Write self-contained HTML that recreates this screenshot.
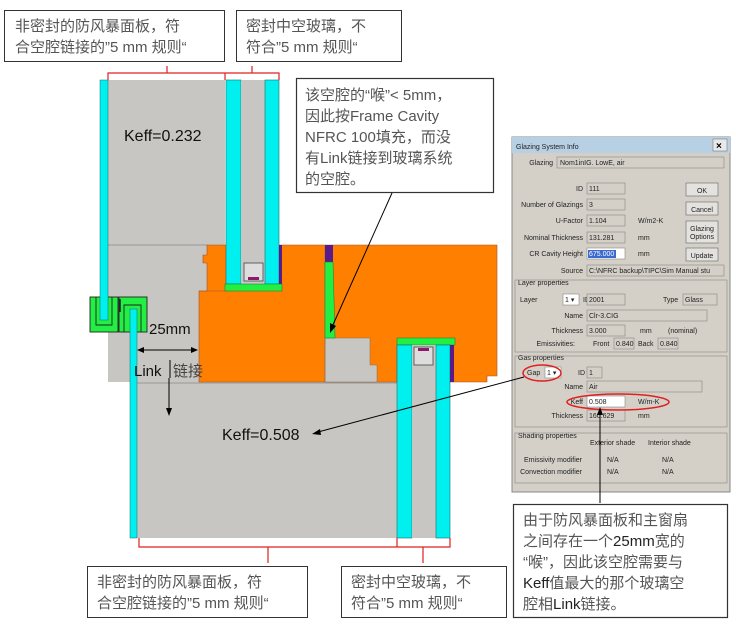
<!DOCTYPE html>
<html><head><meta charset="utf-8"><style>
html,body{margin:0;padding:0;background:#fff;width:736px;height:627px;overflow:hidden}
svg{display:block}
.cn{font-family:"Liberation Sans","Noto Sans CJK SC",sans-serif}
.d{font-family:"Liberation Sans",sans-serif;font-size:7px;fill:#222}
</style></head><body>
<svg width="736" height="627" viewBox="0 0 736 627" xmlns="http://www.w3.org/2000/svg">
<rect x="108" y="80" width="117" height="165" fill="#c8c6c2"/>
<rect x="108" y="245" width="100" height="137" fill="#c8c6c2"/>
<rect x="137" y="382" width="260" height="156" fill="#c8c6c2"/>
<line x1="108" y1="245" x2="207" y2="245" stroke="#888" stroke-width="0.7"/>
<line x1="137" y1="383" x2="397" y2="383" stroke="#888" stroke-width="0.7"/>
<polygon points="207,245 497,245 497,376 487,376 487,382 450,382 450,345 397,345 397,382 199,382 199,291 207,291 207,263 203,263 203,255 207,255" fill="#ff7f00" stroke="#a0522d" stroke-width="0.6"/>
<line x1="199" y1="291" x2="226" y2="291" stroke="#a0522d" stroke-width="0.6"/>
<polygon points="325,338 370,338 370,365 377,365 377,382 325,382" fill="#c8c6c2" stroke="#8a6a50" stroke-width="0.5"/>
<line x1="325" y1="245" x2="325" y2="382" stroke="#8a6a50" stroke-width="0.6"/>
<rect x="325" y="245" width="8" height="17" fill="#5a1a8a"/>
<polygon points="325,262 333,262 335,338 325,338" fill="#22ee44" stroke="#1a7a2a" stroke-width="0.5"/>
<rect x="226" y="80" width="15" height="204" fill="#00f0f0" stroke="#1a6a6a" stroke-width="0.6"/>
<rect x="241" y="80" width="24" height="204" fill="#c8c6c2"/>
<rect x="265" y="80" width="14" height="204" fill="#00f0f0" stroke="#1a6a6a" stroke-width="0.6"/>
<rect x="279" y="245" width="3" height="39" fill="#5a1a8a"/>
<rect x="244" y="263" width="19" height="18" fill="#ddd" stroke="#444" stroke-width="0.8"/>
<rect x="248" y="277" width="11" height="3" fill="#8a1a6a"/>
<rect x="225" y="284" width="57" height="7" fill="#22ee44" stroke="#1a7a2a" stroke-width="0.5"/>
<rect x="397" y="338" width="58" height="7" fill="#22ee44" stroke="#1a7a2a" stroke-width="0.5"/>
<rect x="397" y="345" width="15" height="193" fill="#00f0f0" stroke="#1a6a6a" stroke-width="0.6"/>
<rect x="412" y="345" width="24" height="193" fill="#c8c6c2"/>
<rect x="436" y="345" width="14" height="193" fill="#00f0f0" stroke="#1a6a6a" stroke-width="0.6"/>
<rect x="450" y="345" width="4" height="37" fill="#5a1a8a"/>
<rect x="414" y="347" width="19" height="18" fill="#ddd" stroke="#444" stroke-width="0.8"/>
<rect x="418" y="348" width="11" height="3" fill="#8a1a6a"/>
<!-- clips -->
<rect x="90" y="297" width="28" height="35" fill="#22ee44" stroke="#222" stroke-width="0.9"/>
<path d="M96,297 V325 H112 V297" fill="none" stroke="#222" stroke-width="0.9"/>
<rect x="119" y="297" width="28" height="35" fill="#22ee44" stroke="#222" stroke-width="0.9"/>
<path d="M124,332 V305 H141 V332" fill="none" stroke="#222" stroke-width="0.9"/>
<line x1="120" y1="299" x2="120" y2="312" stroke="#222" stroke-width="1.5"/>
<rect x="100" y="80" width="8" height="240" fill="#00f0f0" stroke="#1a6a6a" stroke-width="0.5"/>
<rect x="130" y="309" width="7" height="229" fill="#00f0f0" stroke="#1a6a6a" stroke-width="0.5"/>
<text x="124" y="141" class="cn" font-size="16" fill="#111">Keff=0.232</text>
<text x="149" y="334" class="cn" font-size="15" fill="#111">25mm</text>
<line x1="139" y1="350" x2="196" y2="350" stroke="#000" stroke-width="1"/>
<polygon points="137,350 144,347 144,353" fill="#000"/><polygon points="198,350 191,347 191,353" fill="#000"/>
<text x="134" y="376" class="cn" font-size="15" fill="#111">Link</text>
<line x1="170" y1="360" x2="170" y2="378" stroke="#000"/>
<text x="173" y="376" class="cn" font-size="15" fill="#444">链接</text>
<line x1="169" y1="378" x2="169" y2="410" stroke="#000"/>
<polygon points="169,416 166,408 172,408" fill="#000"/>
<text x="222" y="440" class="cn" font-size="16" fill="#111">Keff=0.508</text>
<path d="M108,80 V73 H279 V80 M225,73 V80 M167,73 V66 M252,73 V66" fill="none" stroke="#e02020" stroke-width="1.2"/>
<path d="M139,538 V547 H397 V538 M397,547 H450 V538 M268,547 V563 M423,547 V563" fill="none" stroke="#e02020" stroke-width="1.2"/>
<rect x="4.5" y="10.5" width="220" height="51" fill="#fff" stroke="#333"/>
<text x="15" y="31" class="cn" font-size="15" fill="#555">非密封的防风暴面板，符</text>
<text x="15" y="52" class="cn" font-size="15" fill="#555">合空腔链接的”5 mm 规则“</text>
<rect x="236.5" y="10.5" width="165" height="51" fill="#fff" stroke="#333"/>
<text x="246" y="31" class="cn" font-size="15" fill="#555">密封中空玻璃，不</text>
<text x="246" y="52" class="cn" font-size="15" fill="#555">符合”5 mm 规则“</text>
<rect x="87.5" y="566.5" width="220" height="51" fill="#fff" stroke="#333"/>
<text x="97" y="587" class="cn" font-size="15" fill="#555">非密封的防风暴面板，符</text>
<text x="97" y="608" class="cn" font-size="15" fill="#555">合空腔链接的”5 mm 规则“</text>
<rect x="341.5" y="566.5" width="165" height="51" fill="#fff" stroke="#333"/>
<text x="351" y="587" class="cn" font-size="15" fill="#555">密封中空玻璃，不</text>
<text x="351" y="608" class="cn" font-size="15" fill="#555">符合”5 mm 规则“</text>
<rect x="296.5" y="78.5" width="197" height="114" fill="#fff" stroke="#333" stroke-width="1.2"/>
<g class="cn" font-size="15" fill="#555">
<text x="305" y="100">该空腔的“喉”&lt; 5mm，</text>
<text x="305" y="121">因此按Frame Cavity</text>
<text x="305" y="142">NFRC 100填充，而没</text>
<text x="305" y="163">有Link链接到玻璃系统</text>
<text x="305" y="184">的空腔。</text>
</g>
<line x1="392" y1="193" x2="332" y2="327" stroke="#000"/>
<polygon points="330,333 330,323 336,326" fill="#000"/>
<rect x="512" y="137" width="218" height="355" fill="#d4d0c8" stroke="#888"/>
<rect x="512" y="137" width="218" height="16" fill="#b8d0e4"/>
<text x="516" y="149" class="d" font-size="8">Glazing System Info</text>
<rect x="713" y="139" width="14" height="12" fill="#e8e8e8" stroke="#666" stroke-width="0.5"/>
<text x="716" y="149" font-family="Liberation Sans" font-size="10" font-weight="bold">×</text>
<g class="d">
<text x="553" y="165" text-anchor="end">Glazing</text>
<text x="583" y="191" text-anchor="end">ID</text>
<text x="583" y="207" text-anchor="end">Number of Glazings</text>
<text x="583" y="223" text-anchor="end">U-Factor</text>
<text x="583" y="240" text-anchor="end">Nominal Thickness</text>
<text x="583" y="256" text-anchor="end">CR Cavity Height</text>
<text x="583" y="273" text-anchor="end">Source</text>
<text x="518" y="285">Layer properties</text>
<text x="520" y="302">Layer</text>
<text x="583" y="302">ID</text>
<text x="663" y="302">Type</text>
<text x="583" y="318" text-anchor="end">Name</text>
<text x="583" y="333" text-anchor="end">Thickness</text>
<text x="640" y="333">mm</text><text x="668" y="333">(nominal)</text>
<text x="575" y="346" text-anchor="end">Emissivities:</text>
<text x="593" y="346">Front</text><text x="638" y="346">Back</text>
<text x="518" y="360">Gas properties</text>
<text x="527" y="375">Gap</text>
<text x="578" y="375">ID</text>
<text x="583" y="389" text-anchor="end">Name</text>
<text x="583" y="404" text-anchor="end">Keff</text>
<text x="583" y="418" text-anchor="end">Thickness</text>
<text x="638" y="404">W/m-K</text>
<text x="638" y="418">mm</text>
<text x="518" y="438">Shading properties</text>
<text x="590" y="445">Exterior shade</text><text x="648" y="445">Interior shade</text>
<text x="582" y="462" text-anchor="end">Emissivity modifier</text>
<text x="582" y="474" text-anchor="end">Convection modifier</text>
<text x="607" y="462">N/A</text><text x="662" y="462">N/A</text>
<text x="607" y="474">N/A</text><text x="662" y="474">N/A</text>
<text x="638" y="223">W/m2-K</text>
<text x="638" y="240">mm</text>
<text x="638" y="256">mm</text>
</g>
<g fill="#d4d0c8" stroke="#888" stroke-width="0.6">
<rect x="557" y="157" width="167" height="11"/>
<rect x="587" y="183" width="38" height="11"/>
<rect x="587" y="199" width="38" height="11"/>
<rect x="587" y="215" width="38" height="11"/>
<rect x="587" y="232" width="38" height="11"/>
<rect x="587" y="265" width="137" height="11"/>
<rect x="587" y="294" width="38" height="11"/>
<rect x="683" y="294" width="34" height="11"/>
<rect x="587" y="310" width="120" height="11"/>
<rect x="587" y="325" width="38" height="11"/>
<rect x="614" y="338" width="20" height="11"/>
<rect x="658" y="338" width="20" height="11"/>
<rect x="587" y="367" width="15" height="11"/>
<rect x="587" y="381" width="115" height="11"/>
<rect x="587" y="410" width="38" height="11"/>
<rect x="515" y="280" width="212" height="72" fill="none"/>
<rect x="515" y="356" width="212" height="71" fill="none"/>
<rect x="515" y="433" width="212" height="50" fill="none"/>
</g>
<rect x="587" y="248" width="38" height="11" fill="#fff" stroke="#888" stroke-width="0.6"/>
<rect x="588" y="250" width="28" height="8" fill="#3a6ad0"/>
<rect x="587" y="396" width="38" height="11" fill="#fff" stroke="#888" stroke-width="0.6"/>
<rect x="545" y="367" width="16" height="11" fill="#fff" stroke="#888" stroke-width="0.6"/>
<rect x="563" y="294" width="16" height="11" fill="#fff" stroke="#888" stroke-width="0.6"/>
<g class="d" font-size="6.5" fill="#333">
<text x="560" y="165">Nom1inIG. LowE, air</text>
<text x="589" y="191">111</text><text x="589" y="207">3</text>
<text x="589" y="223">1.104</text><text x="589" y="240">131.281</text>
<text x="589" y="256" fill="#fff">675.000</text>
<text x="589" y="273">C:\NFRC backup\TIPC\Sim Manual stu</text>
<text x="589" y="302">2001</text><text x="685" y="302">Glass</text>
<text x="589" y="318">Clr-3.CIG</text><text x="589" y="333">3.000</text>
<text x="616" y="346">0.840</text><text x="660" y="346">0.840</text>
<text x="589" y="375">1</text><text x="589" y="389">Air</text>
<text x="589" y="404">0.508</text><text x="589" y="418">160.629</text>
<text x="547" y="375">1 ▾</text><text x="565" y="302">1 ▾</text>
</g>
<g fill="#e4e2de" stroke="#666" stroke-width="0.6">
<rect x="686" y="183" width="32" height="13"/>
<rect x="686" y="202" width="32" height="13"/>
<rect x="686" y="221" width="32" height="22"/>
<rect x="686" y="248" width="32" height="13"/>
</g>
<g class="d" text-anchor="middle">
<text x="702" y="193">OK</text><text x="702" y="212">Cancel</text>
<text x="702" y="231">Glazing</text><text x="702" y="239">Options</text>
<text x="702" y="258">Update</text>
</g>
<ellipse cx="542" cy="373" rx="19" ry="8" fill="none" stroke="#e02020" stroke-width="1.5"/>
<ellipse cx="618" cy="402" rx="51" ry="8" fill="none" stroke="#e02020" stroke-width="1.5"/>
<line x1="524" y1="377" x2="318" y2="432" stroke="#000"/>
<polygon points="312,434 320,429 321,435" fill="#000"/>
<line x1="600" y1="503" x2="600" y2="414" stroke="#000"/>
<polygon points="600,407 597,415 603,415" fill="#000"/>
<rect x="513.5" y="504.5" width="214" height="113" fill="#fff" stroke="#333" stroke-width="1.2"/>
<g class="cn" font-size="15" fill="#555">
<text x="523" y="525">由于防风暴面板和主窗扇</text>
<text x="523" y="546">之间存在一个<tspan fill="#222">25mm</tspan>宽的</text>
<text x="523" y="567">“喉”，因此该空腔需要与</text>
<text x="523" y="588"><tspan fill="#222">Keff</tspan>值最大的那个玻璃空</text>
<text x="523" y="609">腔相<tspan fill="#222">Link</tspan>链接。</text>
</g>
</svg>
</body></html>
